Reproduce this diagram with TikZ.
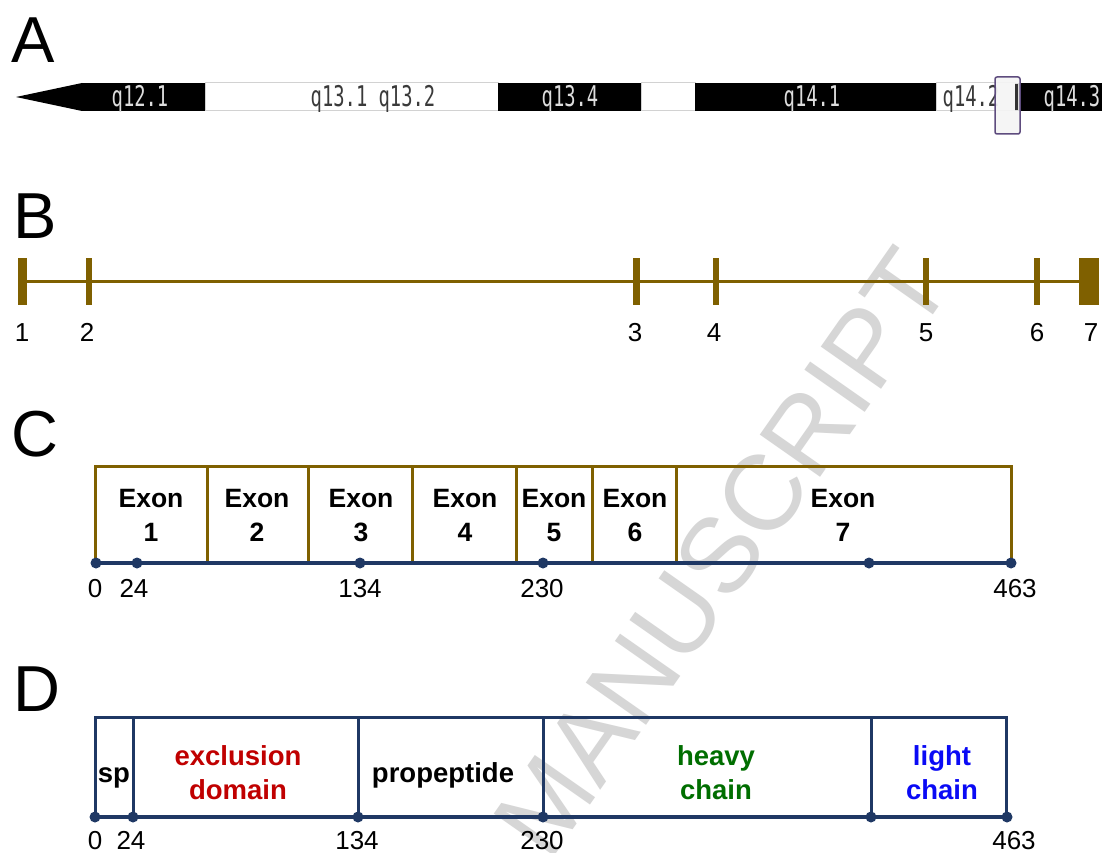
\documentclass[tikz,border=0pt]{standalone}
\usepackage{fontspec}
\setmainfont{Liberation Sans}
\newfontfamily\chromfont[FakeStretch=0.66]{DejaVu Sans Mono}
\definecolor{exbrown}{HTML}{7F6000}
\definecolor{axisblue}{HTML}{1F3864}
\definecolor{exred}{HTML}{C00000}
\definecolor{exgreen}{HTML}{006E00}
\definecolor{exblue}{HTML}{0A0AF5}
\definecolor{wmgray}{HTML}{D6D6D6}
\definecolor{chrlight}{HTML}{DDDDDD}
\definecolor{chrdark}{HTML}{3A3A3A}
\definecolor{hlpurple}{HTML}{5E4C7E}
\begin{document}
\begin{tikzpicture}[x=1pt,y=-1pt,
  lbl/.style={font=\fontsize{65}{70}\selectfont, anchor=base west, inner sep=0},
  num/.style={font=\fontsize{26}{30}\selectfont, anchor=base, inner sep=0},
  exon/.style={font=\bfseries\fontsize{26.5}{30}\selectfont, anchor=base, inner sep=0},
  dom/.style={font=\bfseries\fontsize{27.5}{32}\selectfont, anchor=base, inner sep=0},
  chr/.style={font=\chromfont\fontsize{28.5}{30}\selectfont, anchor=base, inner sep=0},
  dot/.style={circle, fill=axisblue, inner sep=0, minimum size=11pt},
  tick/.style={rectangle, fill=exbrown, inner sep=0, minimum height=47pt},
  exline/.style={draw=exbrown, line width=3pt},
  axline/.style={draw=axisblue, line width=3.5pt},
  domline/.style={draw=axisblue, line width=3pt},
  band/.style={fill=black},
  gap/.style={fill=white, draw=gray!35, line width=1pt},
]
\useasboundingbox (0,0) rectangle (1102,853);
\fill[white] (0,0) rectangle (1102,853);

% watermark
\node[font=\fontsize{107}{110}\selectfont, text=wmgray, rotate=55, inner sep=0] (wm) at (722,553) {MANUSCRIPT};

% panel letters
\node[lbl] (la) at (11,63) {A};
\node[lbl] (lb) at (13,238) {B};
\node[lbl] (lc) at (11,456) {C};
\node[lbl] (ld) at (13,711) {D};

% ---------- A: chromosome ----------
\fill[band] (16,97) -- (82,83) -- (82,111) -- cycle;
\fill[band] (82,83) rectangle (205,111);
\draw[gap] (205,83) rectangle (498,111);
\fill[band] (498,83) rectangle (641,111);
\draw[gap] (641,83) rectangle (695,111);
\fill[band] (695,83) rectangle (936,111);
\draw[gap] (936,83) rectangle (1015,111);
\fill[band] (1015,83) rectangle (1104,111);
\node[chr, text=chrlight] (q121) at (140,106.5) {q12.1};
\node[chr, text=chrdark] (q131) at (373,106.5) {q13.1 q13.2};
\node[chr, text=chrlight] (q134) at (570,106.5) {q13.4};
\node[chr, text=chrlight] (q141) at (812,106.5) {q14.1};
\node[chr, text=chrdark] (q142) at (971,106.5) {q14.2};
\node[chr, text=chrlight] (q143) at (1072,106.5) {q14.3};
\draw[hlpurple, line width=1.5pt, fill=gray!8, fill opacity=0.9, rounded corners=2pt] (995,77) rectangle (1020,134);
\draw[black!80, line width=2.5pt] (1016.5,84) -- (1016.5,110);

% ---------- B: gene ----------
\node[tick, minimum width=9pt] (t1) at (22,281.5) {};
\node[tick, minimum width=5.5pt] (t2) at (89,281.5) {};
\node[tick, minimum width=7pt] (t3) at (636,281.5) {};
\node[tick, minimum width=6pt] (t4) at (716,281.5) {};
\node[tick, minimum width=5.5pt] (t5) at (926,281.5) {};
\node[tick, minimum width=5.5pt] (t6) at (1037,281.5) {};
\node[tick, minimum width=20pt] (t7) at (1089,281.5) {};
\draw[exline] (t1.center) -- (t7.center);
\node[num] (b1) at (22,341) {1};
\node[num] (b2) at (87,341) {2};
\node[num] (b3) at (635,341) {3};
\node[num] (b4) at (714,341) {4};
\node[num] (b5) at (926,341) {5};
\node[num] (b6) at (1037,341) {6};
\node[num] (b7) at (1091,341) {7};

% ---------- C: exons ----------
\draw[exline] (95,563) -- (95,466) -- (1011,466) -- (1011,563);
\foreach \x in {207,308,412,516,592,676} \draw[exline] (\x,466) -- (\x,563);
\coordinate (ca) at (95,563);
\coordinate (cb) at (1011,563);
\draw[axline] (ca) -- (cb);
\node[dot] (c0) at (96,563) {};
\node[dot] (c24) at (137,563) {};
\node[dot] (c134) at (360,563) {};
\node[dot] (c230) at (543,563) {};
\node[dot] (c7) at (869,563) {};
\node[dot] (c463) at (1011,563) {};
\node[exon] (e1a) at (151,507) {Exon};  \node[exon] (e1b) at (151,541) {1};
\node[exon] (e2a) at (257,507) {Exon};  \node[exon] (e2b) at (257,541) {2};
\node[exon] (e3a) at (361,507) {Exon};  \node[exon] (e3b) at (361,541) {3};
\node[exon] (e4a) at (465,507) {Exon};  \node[exon] (e4b) at (465,541) {4};
\node[exon] (e5a) at (554,507) {Exon};  \node[exon] (e5b) at (554,541) {5};
\node[exon] (e6a) at (635,507) {Exon};  \node[exon] (e6b) at (635,541) {6};
\node[exon] (e7a) at (843,507) {Exon};  \node[exon] (e7b) at (843,541) {7};
\node[num] (cn0) at (95,597) {0};
\node[num] (cn24) at (134,597) {24};
\node[num] (cn134) at (360,597) {134};
\node[num] (cn230) at (542,597) {230};
\node[num] (cn463) at (1015,597) {463};

% ---------- D: protein domains ----------
\draw[domline] (95,817) -- (95,717) -- (1006,717) -- (1006,817);
\foreach \x in {133,358,543,871} \draw[domline] (\x,717) -- (\x,817);
\coordinate (da) at (95,817);
\coordinate (db) at (1006,817);
\draw[axline] (da) -- (db);
\node[dot] (d0) at (95,817) {};
\node[dot] (d24) at (133,817) {};
\node[dot] (d134) at (358,817) {};
\node[dot] (d230) at (543,817) {};
\node[dot] (d5) at (871,817) {};
\node[dot] (d463) at (1007,817) {};
\node[dom] (sp) at (114,782) {sp};
\node[dom, text=exred] (exa) at (238,765) {exclusion};
\node[dom, text=exred] (exb) at (238,799) {domain};
\node[dom] (pro) at (443,782) {propeptide};
\node[dom, text=exgreen] (hva) at (716,765) {heavy};
\node[dom, text=exgreen] (hvb) at (716,799) {chain};
\node[dom, text=exblue] (lta) at (942,765) {light};
\node[dom, text=exblue] (ltb) at (942,799) {chain};
\node[num] (dn0) at (95,849) {0};
\node[num] (dn24) at (131,849) {24};
\node[num] (dn134) at (357,849) {134};
\node[num] (dn230) at (542,849) {230};
\node[num] (dn463) at (1014,849) {463};
\end{tikzpicture}
\end{document}
